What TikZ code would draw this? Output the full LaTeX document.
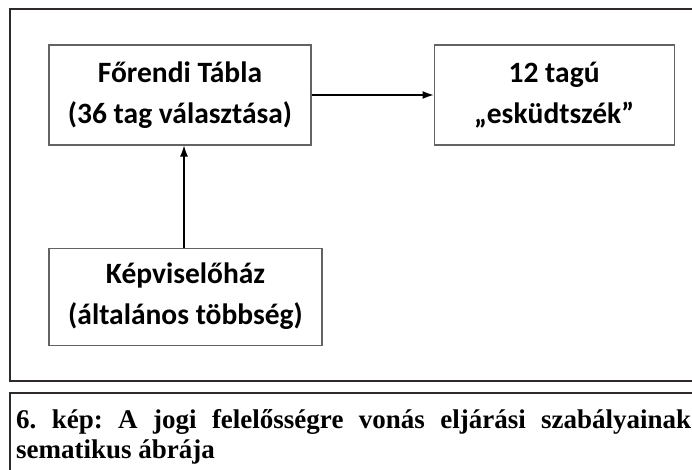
\documentclass[tikz,border=0pt]{standalone}
\usepackage{fontspec}
\setmainfont{Liberation Serif}
\newfontfamily\boxfont{Carlito}
\usepackage{tikz}
\usetikzlibrary{arrows.meta, positioning}
\usepackage{xcolor}
\definecolor{FrameBlack}{cmyk}{0, 0, 0, 0.95}
\definecolor{BoxGray}{cmyk}{0, 0, 0, 0.70}
\tikzset{%
  block/.style={%
    rectangle,%
    draw=BoxGray,%
    line width=1.1pt,%
    inner sep=0pt,%
    font={\boxfont\bfseries\fontsize{29.5}{41}\selectfont},%
    align=center%
  },
  frame/.style={%
    draw=FrameBlack,%
    line width=2pt,%
  },
  signal/.style={%
    color=black,%
    line width=1.1pt,%
    line join=round%
  },
  arrow/.style={-{Latex[length=11pt, width=8pt]}},
  caption/.style={%
    anchor=north west,%
    inner sep=0pt,%
    text width=675pt,%
    align=justify,%
    font={\frenchspacing\bfseries\fontsize{27}{30}\selectfont},%
  },
}

\begin{document}
\begin{tikzpicture}[x=1pt, y=-1pt]
    \useasboundingbox (0, 0) rectangle (692, 470);
    \clip (0, 0) rectangle (692, 470);
    % outer frames
    \draw [frame] (10, 9) rectangle (710, 381);
    \draw [frame] (10, 393) rectangle (710, 490);

    \node [block, minimum width=262pt, minimum height=100pt]
      (Forendi) at (180, 95) {Főrendi Tábla\\(36 tag választása)};
    \node [block, minimum width=240pt, minimum height=100pt,
      right=122pt of Forendi] (Esku) {12 tagú\\„esküdtszék”};
    \node [block, minimum width=273pt, minimum height=97pt,
      below=102pt of Forendi, xshift=5.5pt] (Kepviselo)
      {Képviselőház\\(általános többség)};

    \draw [arrow, signal]
      (Forendi.east) -- (Esku.west);
    \draw [arrow, signal]
      ([xshift=-1.5pt]Kepviselo.north) -- ([xshift=-1.5pt]Kepviselo.north |- Forendi.south);

    \node [caption] (Caption) at (16, 407)
      {\strut 6. kép: A jogi felelősségre vonás eljárási szabályainak\linebreak
       sematikus ábrája};
  \end{tikzpicture}
\end{document}
